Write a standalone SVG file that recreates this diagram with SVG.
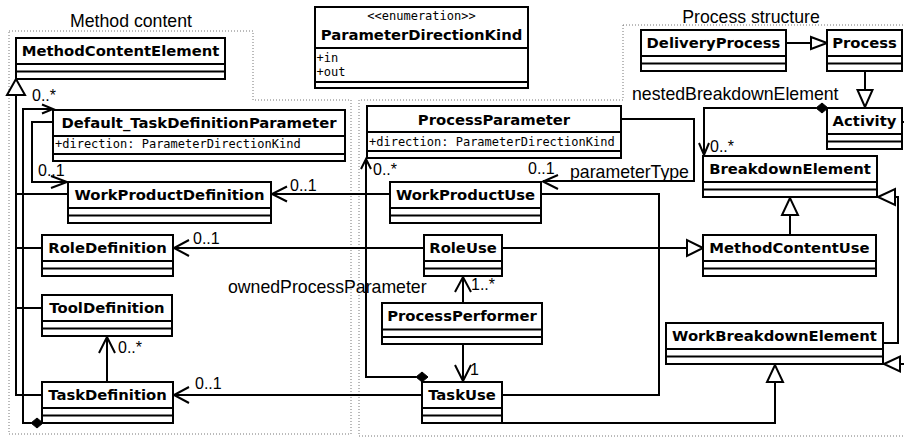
<svg xmlns="http://www.w3.org/2000/svg" width="904" height="439" viewBox="0 0 904 439">
<style>
.bg{fill:#fff}
.frame{fill:none;stroke:#777;stroke-width:1;stroke-dasharray:1 2}
.box{fill:#fff;stroke:#000;stroke-width:2}
.sep{stroke:#000;stroke-width:2}
.name{font-family:"DejaVu Sans",sans-serif;font-weight:bold;font-size:14.8px;text-anchor:middle;fill:#000}
.attr{font-family:"DejaVu Sans Mono",monospace;font-size:12px;fill:#000}
.ster{font-family:"DejaVu Sans Mono",monospace;font-size:12px;text-anchor:middle;fill:#000}
.lbl{font-family:"Liberation Sans",Arial,sans-serif;font-size:17.7px;fill:#000}
.mult{font-family:"Liberation Sans",Arial,sans-serif;font-size:16px;fill:#000}
.edge{fill:none;stroke:#000;stroke-width:2}
.head{fill:none;stroke:#000;stroke-width:2}
.gen{fill:#fff;stroke:#000;stroke-width:2}
.dia{fill:#000;stroke:#000;stroke-width:1}
</style>
<rect class="bg" x="0" y="0" width="904" height="439"/>

<g id="frames">
<polygon class="frame" points="9,31 253,31 253,100 351,100 351,434 9,434"/>
<text class="lbl" x="131" y="27" text-anchor="middle">Method content</text>
<polygon class="frame" points="623,25 910,25 910,436 359,436 359,100 623,100"/>
<text class="lbl" x="751" y="23" text-anchor="middle">Process structure</text>
</g>

<g id="connectors">
<!-- generalization tree to MethodContentElement -->
<path class="edge" d="M16 95 V395 H42"/>
<path class="edge" d="M16 194 H68"/>
<path class="edge" d="M16 248 H42"/>
<path class="edge" d="M16 308 H42"/>
<polygon class="gen" points="16,79 7,95 25,95"/>
<!-- TaskDefinition composition to Default_TaskDefinitionParameter -->
<path class="edge" d="M31 423 H23 V109 H52"/>
<polyline class="head" points="42,104.5 53,109 42,113.5"/>
<polygon class="dia" points="43,423 37,418 31,423 37,428"/>
<text class="mult" x="32" y="101">0..*</text>
<!-- Default_TDP to WorkProductDefinition -->
<path class="edge" d="M53 122 H32 V182 H66"/>
<polyline class="head" points="51,176 67,182 51,188"/>
<text class="mult" x="38" y="176">0..1</text>
<!-- WorkProductUse to WorkProductDefinition -->
<path class="edge" d="M390 194 H272"/>
<polyline class="head" points="287,186.5 272,194 287,201.5"/>
<text class="mult" x="290" y="191">0..1</text>
<!-- RoleUse to RoleDefinition -->
<path class="edge" d="M424 248 H174"/>
<polyline class="head" points="189,240 174,248 189,256"/>
<text class="mult" x="193" y="244">0..1</text>
<!-- TaskUse to TaskDefinition -->
<path class="edge" d="M422 395 H174"/>
<polyline class="head" points="189,387 174,395 189,403"/>
<text class="mult" x="195" y="389">0..1</text>
<!-- TaskDefinition to ToolDefinition -->
<path class="edge" d="M107 382 V337"/>
<polyline class="head" points="99,353 107,337 115,353"/>
<text class="mult" x="118" y="353">0..*</text>
<!-- ownedProcessParameter -->
<path class="edge" d="M416 377 H366 V159"/>
<polyline class="head" points="361,169 366,159 371,169"/>
<polygon class="dia" points="428,377 422,372 416,377 422,382"/>
<text class="mult" x="373" y="175">0..*</text>
<text class="lbl" x="228" y="293">ownedProcessParameter</text>
<!-- parameterType -->
<path class="edge" d="M621 119 H694 V181 H543"/>
<polyline class="head" points="558,175 543,181.5 558,189"/>
<text class="mult" x="528" y="174">0..1</text>
<text class="lbl" x="570" y="178">parameterType</text>
<!-- ProcessPerformer to RoleUse -->
<path class="edge" d="M463 303 V277"/>
<polyline class="head" points="455,292 463,277 471,292"/>
<text class="mult" x="471" y="290">1..*</text>
<!-- ProcessPerformer to TaskUse -->
<path class="edge" d="M463 344 V381"/>
<polyline class="head" points="455,365 463,381 471,365"/>
<text class="mult" x="470" y="375">1</text>
<!-- WorkProductUse - TaskUse -->
<path class="edge" d="M541 194 H659 V395 H502"/>
<!-- RoleUse to MethodContentUse -->
<path class="edge" d="M502 248 H687"/>
<polygon class="gen" points="703,248 687,240 687,256"/>
<!-- MethodContentUse to BreakdownElement -->
<path class="edge" d="M790 235 V215"/>
<polygon class="gen" points="790,198 782,215 798,215"/>
<!-- TaskUse to WorkBreakdownElement -->
<path class="edge" d="M502 423 H775 V382"/>
<polygon class="gen" points="775,365 767,382 783,382"/>
<!-- WorkBreakdownElement to BreakdownElement -->
<path class="edge" d="M883 343 H898 V197 H895"/>
<polygon class="gen" points="878,197 895,189 895,205"/>
<!-- Activity to WorkBreakdownElement -->
<path class="edge" d="M902 122 H915 V364 H900"/>
<polygon class="gen" points="884,364 900,356.5 900,371.5"/>
<!-- DeliveryProcess to Process -->
<path class="edge" d="M786 43 H811"/>
<polygon class="gen" points="827,43 811,37 811,49"/>
<!-- Process to Activity -->
<path class="edge" d="M865 71 V90"/>
<polygon class="gen" points="865,107 857.5,90 872.5,90"/>
<!-- nestedBreakdownElement -->
<path class="edge" d="M816 108 H704 V155"/>
<polyline class="head" points="699,143 704,155 709,143"/>
<polygon class="dia" points="828,108 822,103 816,108 822,113"/>
<text class="mult" x="710" y="152">0..*</text>
<text class="lbl" x="632" y="100">nestedBreakdownElement</text>
</g>

<g id="MethodContentElement">
<rect class="box" x="16" y="38" width="209" height="41"/>
<line class="sep" x1="16" y1="64" x2="225" y2="64"/>
<line class="sep" x1="16" y1="71.5" x2="225" y2="71.5"/>
<text class="name" x="120.5" y="56">MethodContentElement</text>
</g>

<g id="ParameterDirectionKind">
<rect class="box" x="315" y="7" width="213" height="81"/>
<line class="sep" x1="315" y1="48" x2="528" y2="48"/>
<line class="sep" x1="315" y1="82" x2="528" y2="82"/>
<text class="ster" x="421.5" y="19.5">&lt;&lt;enumeration&gt;&gt;</text>
<text class="name" x="421.5" y="39.5">ParameterDirectionKind</text>
<text class="attr" x="316.5" y="61.5">+in</text>
<text class="attr" x="316.5" y="75.5">+out</text>
</g>

<g id="Default_TaskDefinitionParameter">
<rect class="box" x="53" y="110" width="292" height="51"/>
<line class="sep" x1="53" y1="136" x2="345" y2="136"/>
<line class="sep" x1="53" y1="154" x2="345" y2="154"/>
<text class="name" x="199" y="128">Default_TaskDefinitionParameter</text>
<text class="attr" x="55" y="148">+direction: ParameterDirectionKind</text>
</g>

<g id="WorkProductDefinition">
<rect class="box" x="68" y="182" width="203" height="41"/>
<line class="sep" x1="68" y1="208" x2="271" y2="208"/>
<line class="sep" x1="68" y1="215.5" x2="271" y2="215.5"/>
<text class="name" x="169.5" y="200">WorkProductDefinition</text>
</g>

<g id="RoleDefinition">
<rect class="box" x="42" y="235" width="131" height="41"/>
<line class="sep" x1="42" y1="261" x2="173" y2="261"/>
<line class="sep" x1="42" y1="268.5" x2="173" y2="268.5"/>
<text class="name" x="107.5" y="253">RoleDefinition</text>
</g>

<g id="ToolDefinition">
<rect class="box" x="42" y="295" width="130" height="41"/>
<line class="sep" x1="42" y1="321" x2="172" y2="321"/>
<line class="sep" x1="42" y1="328.5" x2="172" y2="328.5"/>
<text class="name" x="107" y="313">ToolDefinition</text>
</g>

<g id="TaskDefinition">
<rect class="box" x="42" y="382" width="131" height="41"/>
<line class="sep" x1="42" y1="408" x2="173" y2="408"/>
<line class="sep" x1="42" y1="415.5" x2="173" y2="415.5"/>
<text class="name" x="107.5" y="400">TaskDefinition</text>
</g>

<g id="DeliveryProcess">
<rect class="box" x="641" y="30" width="145" height="41"/>
<line class="sep" x1="641" y1="56" x2="786" y2="56"/>
<line class="sep" x1="641" y1="63.5" x2="786" y2="63.5"/>
<text class="name" x="713.5" y="48">DeliveryProcess</text>
</g>

<g id="Process">
<rect class="box" x="827" y="30" width="75" height="41"/>
<line class="sep" x1="827" y1="56" x2="902" y2="56"/>
<line class="sep" x1="827" y1="63.5" x2="902" y2="63.5"/>
<text class="name" x="864.5" y="48">Process</text>
</g>

<g id="Activity">
<rect class="box" x="827" y="108" width="75" height="41"/>
<line class="sep" x1="827" y1="134" x2="902" y2="134"/>
<line class="sep" x1="827" y1="141.5" x2="902" y2="141.5"/>
<text class="name" x="864.5" y="126">Activity</text>
</g>

<g id="ProcessParameter">
<rect class="box" x="367" y="106" width="254" height="52"/>
<line class="sep" x1="367" y1="132" x2="621" y2="132"/>
<line class="sep" x1="367" y1="151" x2="621" y2="151"/>
<text class="name" x="494" y="124.5">ProcessParameter</text>
<text class="attr" x="369" y="146">+direction: ParameterDirectionKind</text>
</g>

<g id="WorkProductUse">
<rect class="box" x="390" y="182" width="151" height="41"/>
<line class="sep" x1="390" y1="208" x2="541" y2="208"/>
<line class="sep" x1="390" y1="215.5" x2="541" y2="215.5"/>
<text class="name" x="465.5" y="200">WorkProductUse</text>
</g>

<g id="RoleUse">
<rect class="box" x="424" y="235" width="78" height="41"/>
<line class="sep" x1="424" y1="261" x2="502" y2="261"/>
<line class="sep" x1="424" y1="268.5" x2="502" y2="268.5"/>
<text class="name" x="463" y="253">RoleUse</text>
</g>

<g id="ProcessPerformer">
<rect class="box" x="382" y="303" width="160" height="41"/>
<line class="sep" x1="382" y1="329.5" x2="542" y2="329.5"/>
<line class="sep" x1="382" y1="337" x2="542" y2="337"/>
<text class="name" x="462" y="321">ProcessPerformer</text>
</g>

<g id="TaskUse">
<rect class="box" x="422" y="382" width="80" height="41"/>
<line class="sep" x1="422" y1="408" x2="502" y2="408"/>
<line class="sep" x1="422" y1="415.5" x2="502" y2="415.5"/>
<text class="name" x="462" y="400">TaskUse</text>
</g>

<g id="BreakdownElement">
<rect class="box" x="703" y="156" width="174" height="41"/>
<line class="sep" x1="703" y1="182" x2="877" y2="182"/>
<line class="sep" x1="703" y1="189.5" x2="877" y2="189.5"/>
<text class="name" x="790" y="174">BreakdownElement</text>
</g>

<g id="MethodContentUse">
<rect class="box" x="703" y="235" width="173" height="41"/>
<line class="sep" x1="703" y1="261" x2="876" y2="261"/>
<line class="sep" x1="703" y1="268.5" x2="876" y2="268.5"/>
<text class="name" x="789.5" y="253">MethodContentUse</text>
</g>

<g id="WorkBreakdownElement">
<rect class="box" x="666" y="323" width="217" height="41"/>
<line class="sep" x1="666" y1="349" x2="883" y2="349"/>
<line class="sep" x1="666" y1="356.5" x2="883" y2="356.5"/>
<text class="name" x="774.5" y="341">WorkBreakdownElement</text>
</g>
</svg>
